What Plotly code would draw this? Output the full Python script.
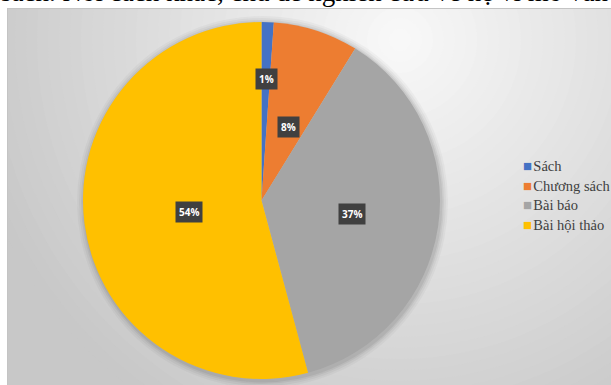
import math
import plotly.graph_objects as go

# ---- data ----
categories = ["Sách", "Chương sách", "Bài báo", "Bài hội thảo"]
shares = [1.1, 7.7, 37.0, 54.2]
label_text = ["1%", "8%", "37%", "54%"]
colors = ["#4472C4", "#ED7D31", "#A5A5A5", "#FFC000"]
label_radius = [0.74, 0.50, 0.51, 0.49]
caption = "sách. Nói cách khác, chủ đề nghiên cứu về hệ vi mô vấn"

W, H = 611, 385
# pie geometry in pixels
cx, cy, R = 261.5, 200.5, 178.5

def px(x):
    return x / W

def py(y):
    return 1 - y / H

fig = go.Figure()
fig.add_trace(go.Pie(
    labels=categories, values=shares, sort=False, direction="clockwise",
    rotation=0, marker=dict(colors=colors, line=dict(width=0)),
    textinfo="none", hoverinfo="label+percent", showlegend=False,
    domain=dict(x=[px(cx - R), px(cx + R)], y=[py(cy + R), py(cy - R)]),
))

shapes = []
# chart-area background: stepped radial gradient
shapes.append(dict(type="rect", xref="paper", yref="paper", x0=px(7), x1=px(W), y0=py(H), y1=py(8),
                   fillcolor="#c8c8c8", line=dict(width=0), layer="below"))
gx, gy = 400, 40
n = 40
rmax = 440
for i in range(n):
    r = rmax * (1 - i / n)
    t = i / (n - 1)
    v = int(round(0xc8 + (0xf8 - 0xc8) * t))
    col = "#%02x%02x%02x" % (v, v, v)
    shapes.append(dict(type="circle", xref="paper", yref="paper",
                       x0=px(gx - r), x1=px(gx + r), y0=py(gy + r), y1=py(gy - r),
                       fillcolor=col, line=dict(width=0), layer="below"))
# soft shadow around the pie
for k, a in [(7, 0.03), (5, 0.04), (3, 0.05), (1.5, 0.06)]:
    shapes.append(dict(type="circle", xref="paper", yref="paper",
                       x0=px(cx - R - k + 1), x1=px(cx + R + k + 1),
                       y0=py(cy + R + k + 2), y1=py(cy - R - k + 1),
                       fillcolor="rgba(0,0,0,%s)" % a, line=dict(width=0), layer="below"))
# white page margins and chart border
shapes.append(dict(type="rect", xref="paper", yref="paper", x0=0, x1=px(7), y0=0, y1=1,
                   fillcolor="white", line=dict(width=0), layer="below"))
shapes.append(dict(type="rect", xref="paper", yref="paper", x0=0, x1=1, y0=py(8), y1=1,
                   fillcolor="white", line=dict(width=0), layer="below"))
shapes.append(dict(type="line", xref="paper", yref="paper", x0=px(7.5), x1=px(7.5), y0=0, y1=py(8),
                   line=dict(color="#c4c4c4", width=1), layer="below"))
shapes.append(dict(type="line", xref="paper", yref="paper", x0=px(7.5), x1=1, y0=py(8.5), y1=py(8.5),
                   line=dict(color="#c4c4c4", width=1), layer="below"))

annotations = []
total = sum(shares)
cum = 0
for v, txt, rf in zip(shares, label_text, label_radius):
    mid = (cum + v / 2) / total * 2 * math.pi
    cum += v
    lx = cx + rf * R * math.sin(mid)
    ly = cy - rf * R * math.cos(mid)
    annotations.append(dict(x=px(lx), y=py(ly), xref="paper", yref="paper", text="<b>%s</b>" % txt,
                            showarrow=False, bgcolor="#404040", borderpad=3,
                            font=dict(family="Open Sans", size=10, color="white")))

# legend drawn as text items (marker square + category name)
leg_x, leg_y0, leg_dy = 522, 166, 19.5
for i, (cat, col) in enumerate(zip(categories, colors)):
    annotations.append(dict(
        x=px(leg_x), y=py(leg_y0 + i * leg_dy), xref="paper", yref="paper",
        xanchor="left", yanchor="middle", showarrow=False, borderpad=0,
        text='<span style="color:%s;font-size:15px">■</span><span style="font-size:5px"> </span>%s' % (col, cat),
        font=dict(family="Liberation Serif", size=14.5, color="#404040")))

annotations.append(dict(x=0, y=py(8), xref="paper", yref="paper", xanchor="left", yanchor="bottom",
                        text=caption, showarrow=False, borderpad=0,
                        font=dict(family="Liberation Serif", size=27, color="black")))

fig.update_layout(
    width=W, height=H, margin=dict(l=0, r=0, t=0, b=0),
    paper_bgcolor="white", plot_bgcolor="rgba(0,0,0,0)",
    shapes=shapes, annotations=annotations,
    showlegend=False,
)

fig.write_html("out.html")
